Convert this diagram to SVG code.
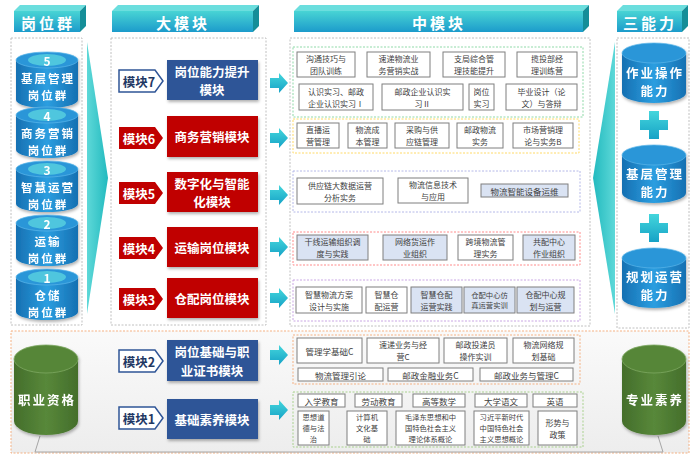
<svg xmlns="http://www.w3.org/2000/svg" width="700" height="470" viewBox="0 0 700 470">
<defs>
<linearGradient id="tabG" x1="0" y1="0" x2="0" y2="1"><stop offset="0" stop-color="#48D4D4"/><stop offset="1" stop-color="#1C9BCB"/></linearGradient>
<linearGradient id="cylB" x1="0" y1="0" x2="1" y2="0"><stop offset="0" stop-color="#1670B2"/><stop offset="0.5" stop-color="#2B9EE0"/><stop offset="1" stop-color="#1670B2"/></linearGradient>
<linearGradient id="cylG" x1="0" y1="0" x2="1" y2="0"><stop offset="0" stop-color="#446E2B"/><stop offset="0.5" stop-color="#58883A"/><stop offset="1" stop-color="#446E2B"/></linearGradient>
<linearGradient id="arG" x1="0" y1="0" x2="0" y2="1"><stop offset="0" stop-color="#44D6DC"/><stop offset="1" stop-color="#16A2C6"/></linearGradient>
<linearGradient id="wedgeL" x1="0" y1="0" x2="1" y2="0"><stop offset="0" stop-color="#5ED8D8"/><stop offset="1" stop-color="#22BABF"/></linearGradient>
<linearGradient id="wedgeR" x1="1" y1="0" x2="0" y2="0"><stop offset="0" stop-color="#5ED8D8"/><stop offset="1" stop-color="#22BABF"/></linearGradient>
<linearGradient id="floorG" x1="0" y1="0" x2="0" y2="1"><stop offset="0" stop-color="#FAFAFA"/><stop offset="1" stop-color="#EDEDED"/></linearGradient>
<filter id="sh" x="-20%" y="-20%" width="140%" height="140%"><feDropShadow dx="1" dy="2" stdDeviation="1.5" flood-color="#000" flood-opacity="0.3"/></filter>
<style>
text{font-family:"Noto Sans CJK SC","Noto Sans",sans-serif;text-anchor:middle;dominant-baseline:central}
tspan{dominant-baseline:central}
.panel{fill:#fff;stroke:#C0C0C0;stroke-width:1;stroke-dasharray:2 1.5}
.tabF{fill:url(#tabG)}
.tabT{fill:#6BDEDE}
.tabR{fill:#158E98}
.hd{font-size:15px;font-weight:bold;fill:#fff;letter-spacing:3px}
.grp{fill:none;stroke-width:1;stroke-dasharray:2 1.5}
.c{fill:#fff;stroke:#7F7F7F;stroke-width:1}
.cb{fill:#DAE3F3;stroke:#7F7F7F;stroke-width:1}
.ct{font-size:8px;fill:#404040}
.c1{font-size:8.5px;fill:#404040}
.cs{font-size:7.3px;fill:#404040}
.modB{fill:#2F5597}
.modR{fill:#C00000}
.mt{font-size:12.5px;font-weight:bold;fill:#fff}
.tagW{fill:#fff;stroke:#2F5597;stroke-width:1.5}
.tagR{fill:#C00000}
.tw{font-size:12.5px;font-weight:bold;fill:#1F3864}
.tr{font-size:12.5px;font-weight:bold;fill:#fff}
.arr{fill:url(#arG)}
.cyl{fill:url(#cylB)}
.cylTop{fill:#2996D8;stroke:#5CB6EA;stroke-width:0.7}
.band{fill:#4FC6DE}
.cylG{fill:url(#cylG)}
.cylGTop{fill:#568637;stroke:#7DA862;stroke-width:0.8}
.yt{font-size:12.5px;font-weight:bold;fill:#fff;letter-spacing:2px}
.ys{font-size:11.5px;font-weight:bold;fill:#fff;letter-spacing:2px}
.num{font-size:12px;font-weight:bold;fill:#fff}
</style>
</defs>
<rect width="700" height="470" fill="#fff"/>

<!-- header tabs -->
<g id="tab-gangweiqun">
<polygon class="tabT" points="14,11 20,5 86,5 80,11"/><polygon class="tabR" points="80,11 86,5 86,26 80,32"/>
<rect class="tabF" x="14" y="11" width="66" height="21"/>
<text class="hd" x="48" y="22">岗位群</text>
</g>
<g id="tab-damokuai">
<polygon class="tabT" points="112,11 118,5 259,5 253,11"/><polygon class="tabR" points="253,11 259,5 259,26 253,32"/>
<rect class="tabF" x="112" y="11" width="141" height="21"/>
<text class="hd" x="183" y="22">大模块</text>
</g>
<g id="tab-zhongmokuai">
<polygon class="tabT" points="294,11 300,5 589,5 583,11"/><polygon class="tabR" points="583,11 589,5 589,26 583,32"/>
<rect class="tabF" x="294" y="11" width="289" height="21"/>
<text class="hd" x="439" y="22">中模块</text>
</g>
<g id="tab-sannengli">
<polygon class="tabT" points="617,11 623,5 688,5 682,11"/><polygon class="tabR" points="682,11 688,5 688,26 682,32"/>
<rect class="tabF" x="617" y="11" width="65" height="21"/>
<text class="hd" x="650" y="22">三能力</text>
</g>

<!-- panels -->
<rect class="panel" x="11" y="38" width="71" height="287"/>
<rect class="panel" x="111" y="38" width="155" height="287"/>
<rect class="panel" x="290" y="38" width="300" height="288"/>
<rect class="panel" x="617" y="38" width="72" height="290"/>
<rect x="11" y="331" width="678" height="122" fill="url(#floorG)" stroke="#F4B183" stroke-width="1" stroke-dasharray="2 1.5"/>
<polyline points="40,436 35,452 663,452 658,436" fill="none" stroke="#A6A6A6" stroke-width="1"/>

<!-- wedges -->
<polygon points="87,42 108,178 87,314" fill="url(#wedgeL)"/>
<polygon points="615,42 593,178 615,314" fill="url(#wedgeR)"/>

<!-- left cylinders -->
<g id="cyl-5" filter="url(#sh)">
<path class="cyl" d="M16,60 L16,100 A31,8 0 0 0 78,100 L78,60 Z"/><ellipse class="cylTop" cx="47" cy="60" rx="31" ry="8"/><ellipse class="band" cx="47" cy="60" rx="19" ry="6"/>
<text class="num" x="47" y="60">5</text><text class="ys" x="48" y="78">基层管理<tspan x="48" dy="16.7">岗位群</tspan></text>
</g>
<g id="cyl-4" filter="url(#sh)">
<path class="cyl" d="M16,115 L16,150 A31,8 0 0 0 78,150 L78,115 Z"/><ellipse class="cylTop" cx="47" cy="115" rx="31" ry="8"/><ellipse class="band" cx="47" cy="115" rx="19" ry="6"/>
<text class="num" x="47" y="115">4</text><text class="ys" x="48" y="133">商务营销<tspan x="48" dy="16.7">岗位群</tspan></text>
</g>
<g id="cyl-3" filter="url(#sh)">
<path class="cyl" d="M16,169 L16,204 A31,8 0 0 0 78,204 L78,169 Z"/><ellipse class="cylTop" cx="47" cy="169" rx="31" ry="8"/><ellipse class="band" cx="47" cy="169" rx="19" ry="6"/>
<text class="num" x="47" y="169">3</text><text class="ys" x="48" y="187">智慧运营<tspan x="48" dy="16.7">岗位群</tspan></text>
</g>
<g id="cyl-2" filter="url(#sh)">
<path class="cyl" d="M16,223 L16,258 A31,8 0 0 0 78,258 L78,223 Z"/><ellipse class="cylTop" cx="47" cy="223" rx="31" ry="8"/><ellipse class="band" cx="47" cy="223" rx="19" ry="6"/>
<text class="num" x="47" y="223">2</text><text class="ys" x="48" y="241">运输<tspan x="48" dy="16.7">岗位群</tspan></text>
</g>
<g id="cyl-1" filter="url(#sh)">
<path class="cyl" d="M16,277 L16,312 A31,8 0 0 0 78,312 L78,277 Z"/><ellipse class="cylTop" cx="47" cy="277" rx="31" ry="8"/><ellipse class="band" cx="47" cy="277" rx="19" ry="6"/>
<text class="num" x="47" y="277">1</text><text class="ys" x="48" y="295">仓储<tspan x="48" dy="16.7">岗位群</tspan></text>
</g>

<!-- right cylinders -->
<g id="cap-1" filter="url(#sh)">
<path class="cyl" d="M622,53 L622,93 A32,10 0 0 0 686,93 L686,53 Z"/><ellipse class="cylTop" cx="654" cy="53" rx="32" ry="10"/>
<text class="yt" x="655" y="72">作业操作<tspan x="655" dy="18.2">能力</tspan></text>
</g>
<g id="cap-2" filter="url(#sh)">
<path class="cyl" d="M622,155 L622,193 A32,10 0 0 0 686,193 L686,155 Z"/><ellipse class="cylTop" cx="654" cy="155" rx="32" ry="10"/>
<text class="yt" x="655" y="173">基层管理<tspan x="655" dy="18.2">能力</tspan></text>
</g>
<g id="cap-3" filter="url(#sh)">
<path class="cyl" d="M622,258 L622,298 A32,10 0 0 0 686,298 L686,258 Z"/><ellipse class="cylTop" cx="654" cy="258" rx="32" ry="10"/>
<text class="yt" x="655" y="276">规划运营<tspan x="655" dy="18.2">能力</tspan></text>
</g>
<g id="plus-signs" fill="url(#arG)">
<path d="M649,111 h10 v9 h9 v10 h-9 v9 h-10 v-9 h-9 v-10 h9 Z"/>
<path d="M649,214 h10 v9 h9 v10 h-9 v9 h-10 v-9 h-9 v-10 h9 Z"/>
</g>

<!-- green cylinders -->
<g id="zhiye-zige" filter="url(#sh)">
<path class="cylG" d="M14,359 L14,421 A32,14 0 0 0 78,421 L78,359 Z"/><ellipse class="cylGTop" cx="46" cy="359" rx="32" ry="14"/>
<text class="yt" x="47" y="399">职业资格</text>
</g>
<g id="zhuanye-suyang" filter="url(#sh)">
<path class="cylG" d="M622,359 L622,421 A32,14 0 0 0 686,421 L686,359 Z"/><ellipse class="cylGTop" cx="654" cy="359" rx="32" ry="14"/>
<text class="yt" x="655" y="399">专业素养</text>
</g>

<!-- modules -->
<g id="module-7">
<polygon class="tagW" points="119,70 155,70 163,81 155,92 119,92"/><text class="tw" x="139" y="81">模块7</text>
<rect class="modB" x="167" y="60" width="91" height="40" filter="url(#sh)"/><text class="mt" x="212" y="71">岗位能力提升<tspan x="212" dy="18.1">模块</tspan></text>
</g>
<g id="module-6">
<polygon class="tagR" points="119,127 155,127 163,138 155,149 119,149"/><text class="tr" x="139" y="138">模块6</text>
<rect class="modR" x="167" y="116" width="91" height="41" filter="url(#sh)"/><text class="mt" x="212" y="136.5">商务营销模块</text>
</g>
<g id="module-5">
<polygon class="tagR" points="119,182 155,182 163,193 155,204 119,204"/><text class="tr" x="139" y="193">模块5</text>
<rect class="modR" x="167" y="172" width="91" height="40" filter="url(#sh)"/><text class="mt" x="212" y="183">数字化与智能<tspan x="212" dy="18.1">化模块</tspan></text>
</g>
<g id="module-4">
<polygon class="tagR" points="119,237 155,237 163,248 155,259 119,259"/><text class="tr" x="139" y="248">模块4</text>
<rect class="modR" x="167" y="227" width="91" height="40" filter="url(#sh)"/><text class="mt" x="212" y="247">运输岗位模块</text>
</g>
<g id="module-3">
<polygon class="tagR" points="119,288 155,288 163,299 155,310 119,310"/><text class="tr" x="139" y="299">模块3</text>
<rect class="modR" x="167" y="278" width="91" height="40" filter="url(#sh)"/><text class="mt" x="212" y="298">仓配岗位模块</text>
</g>
<g id="module-2">
<polygon class="tagW" points="119,350 155,350 163,361 155,372 119,372"/><text class="tw" x="139" y="361">模块2</text>
<rect class="modB" x="167" y="340" width="91" height="41" filter="url(#sh)"/><text class="mt" x="212" y="351.5">岗位基础与职<tspan x="212" dy="18.1">业证书模块</tspan></text>
</g>
<g id="module-1">
<polygon class="tagW" points="119,407 155,407 163,418 155,429 119,429"/><text class="tw" x="139" y="418">模块1</text>
<rect class="modB" x="167" y="399" width="91" height="40" filter="url(#sh)"/><text class="mt" x="212" y="419">基础素养模块</text>
</g>

<!-- connectors -->
<g id="connectors" class="arr">
<polygon points="270,78 279,78 279,73 288,83 279,93 279,88 270,88"/>
<polygon points="270,133 279,133 279,128 288,138 279,148 279,143 270,143"/>
<polygon points="270,190 279,190 279,185 288,195 279,205 279,200 270,200"/>
<polygon points="270,242 279,242 279,237 288,247 279,257 279,252 270,252"/>
<polygon points="270,293 279,293 279,288 288,298 279,308 279,303 270,303"/>
<polygon points="270,350 279,350 279,345 288,355 279,365 279,360 270,360"/>
<polygon points="270,405 279,405 279,400 288,410 279,420 279,415 270,415"/>
</g>

<!-- course group 7 -->
<g id="courses-7">
<rect class="grp" x="293" y="47" width="290" height="70" stroke="#8FD9A8"/>
<rect class="c" x="297" y="52" width="58" height="25"/><text class="ct" x="326" y="58.7">沟通技巧与<tspan x="326" dy="11.6">团队训练</tspan></text>
<rect class="c" x="367" y="52" width="63" height="25"/><text class="ct" x="398.5" y="58.7">速递物流业<tspan x="398.5" dy="11.6">务营销实战</tspan></text>
<rect class="c" x="443" y="52" width="62" height="25"/><text class="ct" x="474" y="58.7">支局综合管<tspan x="474" dy="11.6">理技能提升</tspan></text>
<rect class="c" x="517" y="52" width="60" height="25"/><text class="ct" x="547" y="58.7">揽投部经<tspan x="547" dy="11.6">理训练营</tspan></text>
<rect class="c" x="299" y="84" width="74" height="26"/><text class="ct" x="336" y="91.2">认识实习、邮政<tspan x="336" dy="11.6">企业认识实习Ⅰ</tspan></text>
<rect class="c" x="382" y="84" width="81" height="26"/><text class="ct" x="422.5" y="91.2">邮政企业认识实<tspan x="422.5" dy="11.6">习Ⅱ</tspan></text>
<rect class="c" x="469" y="84" width="25" height="26"/><text class="ct" x="481.5" y="91.2">岗位<tspan x="481.5" dy="11.6">实习</tspan></text>
<rect class="c" x="506" y="84" width="71" height="26"/><text class="ct" x="541.5" y="91.2">毕业设计（论<tspan x="541.5" dy="11.6">文）与答辩</tspan></text>
</g>
<!-- course group 6 -->
<g id="courses-6">
<rect class="grp" x="293" y="119" width="286" height="34" stroke="#FFD966"/>
<rect class="c" x="297" y="123" width="42" height="25"/><text class="ct" x="318" y="129.7">直播运<tspan x="318" dy="11.6">营管理</tspan></text>
<rect class="c" x="348" y="123" width="39" height="25"/><text class="ct" x="367.5" y="129.7">物流成<tspan x="367.5" dy="11.6">本管理</tspan></text>
<rect class="c" x="395" y="123" width="54" height="25"/><text class="ct" x="422" y="129.7">采购与供<tspan x="422" dy="11.6">应链管理</tspan></text>
<rect class="c" x="457" y="123" width="46" height="25"/><text class="ct" x="480" y="129.7">邮政物流<tspan x="480" dy="11.6">实务</tspan></text>
<rect class="c" x="513" y="123" width="60" height="25"/><text class="ct" x="543" y="129.7">市场营销理<tspan x="543" dy="11.6">论与实务B</tspan></text>
</g>
<!-- course group 5 -->
<g id="courses-5">
<rect class="grp" x="293" y="171" width="287" height="41" stroke="#B4B8E8"/>
<rect class="c" x="297" y="178" width="86" height="26"/><text class="ct" x="340" y="185.2">供应链大数据运营<tspan x="340" dy="11.6">分析实务</tspan></text>
<rect class="c" x="398" y="178" width="70" height="25"/><text class="ct" x="433" y="184.7">物流信息技术<tspan x="433" dy="11.6">与应用</tspan></text>
<rect class="cb" x="481" y="184" width="87" height="13"/><text class="c1" x="524.5" y="190.5">物流智能设备运维</text>
</g>
<!-- course group 4 -->
<g id="courses-4">
<rect class="grp" x="293" y="232" width="287" height="33" stroke="#FF8A8A"/>
<rect class="cb" x="297" y="235" width="71" height="25"/><text class="ct" x="332.5" y="241.7">干线运输组织调<tspan x="332.5" dy="11.6">度与实践</tspan></text>
<rect class="cb" x="383" y="235" width="64" height="25"/><text class="ct" x="415" y="241.7">网络货运作<tspan x="415" dy="11.6">业组织</tspan></text>
<rect class="c" x="458" y="235" width="55" height="25"/><text class="ct" x="485.5" y="241.7">跨境物流管<tspan x="485.5" dy="11.6">理实务</tspan></text>
<rect class="cb" x="523" y="235" width="52" height="25"/><text class="ct" x="549" y="241.7">共配中心<tspan x="549" dy="11.6">作业组织</tspan></text>
</g>
<!-- course group 3 -->
<g id="courses-3">
<rect class="grp" x="293" y="280" width="287" height="41" stroke="#C9A6E4"/>
<rect class="c" x="296" y="287" width="66" height="26"/><text class="ct" x="329" y="294.2">智慧物流方案<tspan x="329" dy="11.6">设计与实施</tspan></text>
<rect class="c" x="366" y="287" width="41" height="26"/><text class="ct" x="386.5" y="294.2">智慧仓<tspan x="386.5" dy="11.6">配运营</tspan></text>
<rect class="cb" x="411" y="287" width="51" height="26"/><text class="ct" x="436.5" y="294.2">智慧仓配<tspan x="436.5" dy="11.6">运营实践</tspan></text>
<rect class="cb" x="464" y="287" width="51" height="26"/><text class="cs" x="489.5" y="294.7">仓配中心仿<tspan x="489.5" dy="10.6">真运营实训</tspan></text>
<rect class="cb" x="517" y="287" width="57" height="26"/><text class="ct" x="545.5" y="294.2">仓配中心规<tspan x="545.5" dy="11.6">划与运营</tspan></text>
</g>
<!-- course group 2 -->
<g id="courses-2">
<rect class="grp" x="293" y="335" width="287" height="49" stroke="#F4B183"/>
<rect class="c" x="297" y="338" width="65" height="25"/><text class="c1" x="329.5" y="350.5">管理学基础C</text>
<rect class="c" x="367" y="338" width="72" height="25"/><text class="ct" x="403" y="344.7">速递业务与经<tspan x="403" dy="11.6">营C</tspan></text>
<rect class="c" x="444" y="338" width="63" height="25"/><text class="ct" x="475.5" y="344.7">邮政投递员<tspan x="475.5" dy="11.6">操作实训</tspan></text>
<rect class="c" x="513" y="338" width="61" height="25"/><text class="ct" x="543.5" y="344.7">物流网络规<tspan x="543.5" dy="11.6">划基础</tspan></text>
<rect class="c" x="298" y="368" width="85" height="13"/><text class="c1" x="340.5" y="374.5">物流管理引论</text>
<rect class="c" x="388" y="368" width="85" height="13"/><text class="c1" x="430.5" y="374.5">邮政金融业务C</text>
<rect class="c" x="480" y="368" width="93" height="13"/><text class="c1" x="526.5" y="374.5">邮政业务与管理C</text>
</g>
<!-- course group 1 -->
<g id="courses-1">
<rect class="grp" x="293" y="392" width="290" height="55" stroke="#A9D18E"/>
<rect class="c" x="298" y="394" width="47" height="13"/><text class="c1" x="321.5" y="400.5">入学教育</text>
<rect class="c" x="355" y="394" width="47" height="13"/><text class="c1" x="378.5" y="400.5">劳动教育</text>
<rect class="c" x="413" y="394" width="52" height="13"/><text class="c1" x="439" y="400.5">高等数学</text>
<rect class="c" x="475" y="394" width="52" height="13"/><text class="c1" x="501" y="400.5">大学语文</text>
<rect class="c" x="533" y="394" width="44" height="13"/><text class="c1" x="555" y="400.5">英语</text>
<rect class="c" x="298" y="411" width="31" height="34"/><text class="cs" x="313.5" y="417.4">思想道<tspan x="313.5" dy="10.6">德与法</tspan><tspan x="313.5" dy="10.6">治</tspan></text>
<rect class="c" x="347" y="411" width="40" height="34"/><text class="cs" x="367" y="417.4">计算机<tspan x="367" dy="10.6">文化基</tspan><tspan x="367" dy="10.6">础</tspan></text>
<rect class="c" x="396" y="411" width="69" height="34"/><text class="cs" x="430.5" y="417.4">毛泽东思想和中<tspan x="430.5" dy="10.6">国特色社会主义</tspan><tspan x="430.5" dy="10.6">理论体系概论</tspan></text>
<rect class="c" x="474" y="411" width="55" height="34"/><text class="cs" x="501.5" y="417.4">习近平新时代<tspan x="501.5" dy="10.6">中国特色社会</tspan><tspan x="501.5" dy="10.6">主义思想概论</tspan></text>
<rect class="c" x="538" y="411" width="39" height="34"/><text class="ct" x="557.5" y="422.2">形势与<tspan x="557.5" dy="11.6">政策</tspan></text>
</g>
</svg>
